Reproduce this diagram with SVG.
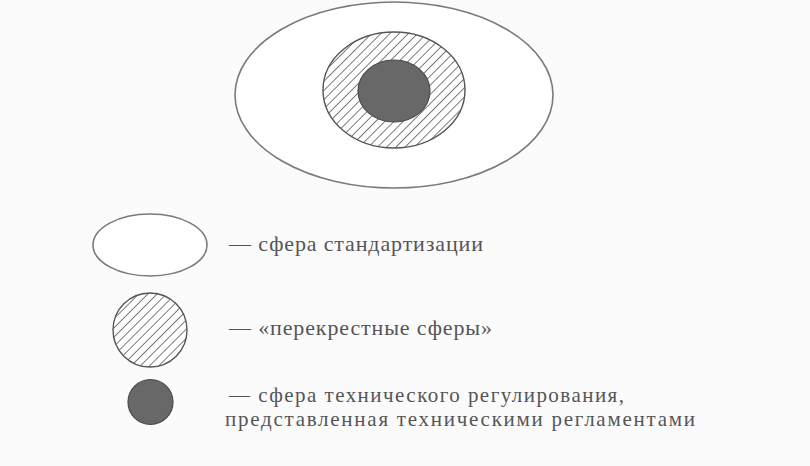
<svg xmlns="http://www.w3.org/2000/svg" width="810" height="466" viewBox="0 0 810 466">
  <defs>
    <pattern id="hatch" patternUnits="userSpaceOnUse" width="6.5" height="6.5" patternTransform="rotate(45)">
      <rect width="6.5" height="6.5" fill="#ffffff"/>
      <line x1="0" y1="0" x2="0" y2="6.5" stroke="#505050" stroke-width="1.5"/>
    </pattern>
  </defs>
  <style>
    .outer { fill: #ffffff; stroke: #7a7a7a; stroke-width: 1.6; }
    .hatched { fill: url(#hatch); stroke: #555555; stroke-width: 1.4; }
    .core { fill: #686868; stroke: #4a4a4a; stroke-width: 1.2; }
    .label { font-family: "Liberation Serif", "DejaVu Serif", serif; font-size: 22px; fill: #555555; }
    .small { font-size: 21px; }
  </style>
  <rect width="810" height="466" fill="#fbfbfb"/>
  <g id="main-diagram">
    <ellipse class="outer" cx="394" cy="95" rx="159" ry="93"/>
    <ellipse class="hatched" cx="394" cy="90" rx="71" ry="58"/>
    <ellipse class="core" cx="394" cy="91" rx="36" ry="31"/>
  </g>
  <g id="legend-standardization">
    <ellipse class="outer" cx="150" cy="245" rx="57" ry="31"/>
    <text class="label" x="229" y="251" textLength="254" lengthAdjust="spacing">— сфера стандартизации</text>
  </g>
  <g id="legend-cross">
    <ellipse class="hatched" cx="150" cy="330" rx="37" ry="37"/>
    <text class="label" x="229" y="335" textLength="263" lengthAdjust="spacing">— «перекрестные сферы»</text>
  </g>
  <g id="legend-technical">
    <ellipse class="core" cx="150.5" cy="402" rx="22.5" ry="22.5"/>
    <text class="label small" x="229" y="402" textLength="395" lengthAdjust="spacing">— сфера технического регулирования,</text>
    <text class="label small" x="225" y="426" textLength="470" lengthAdjust="spacing">представленная техническими регламентами</text>
  </g>
  <g id="connectors"/>
</svg>
